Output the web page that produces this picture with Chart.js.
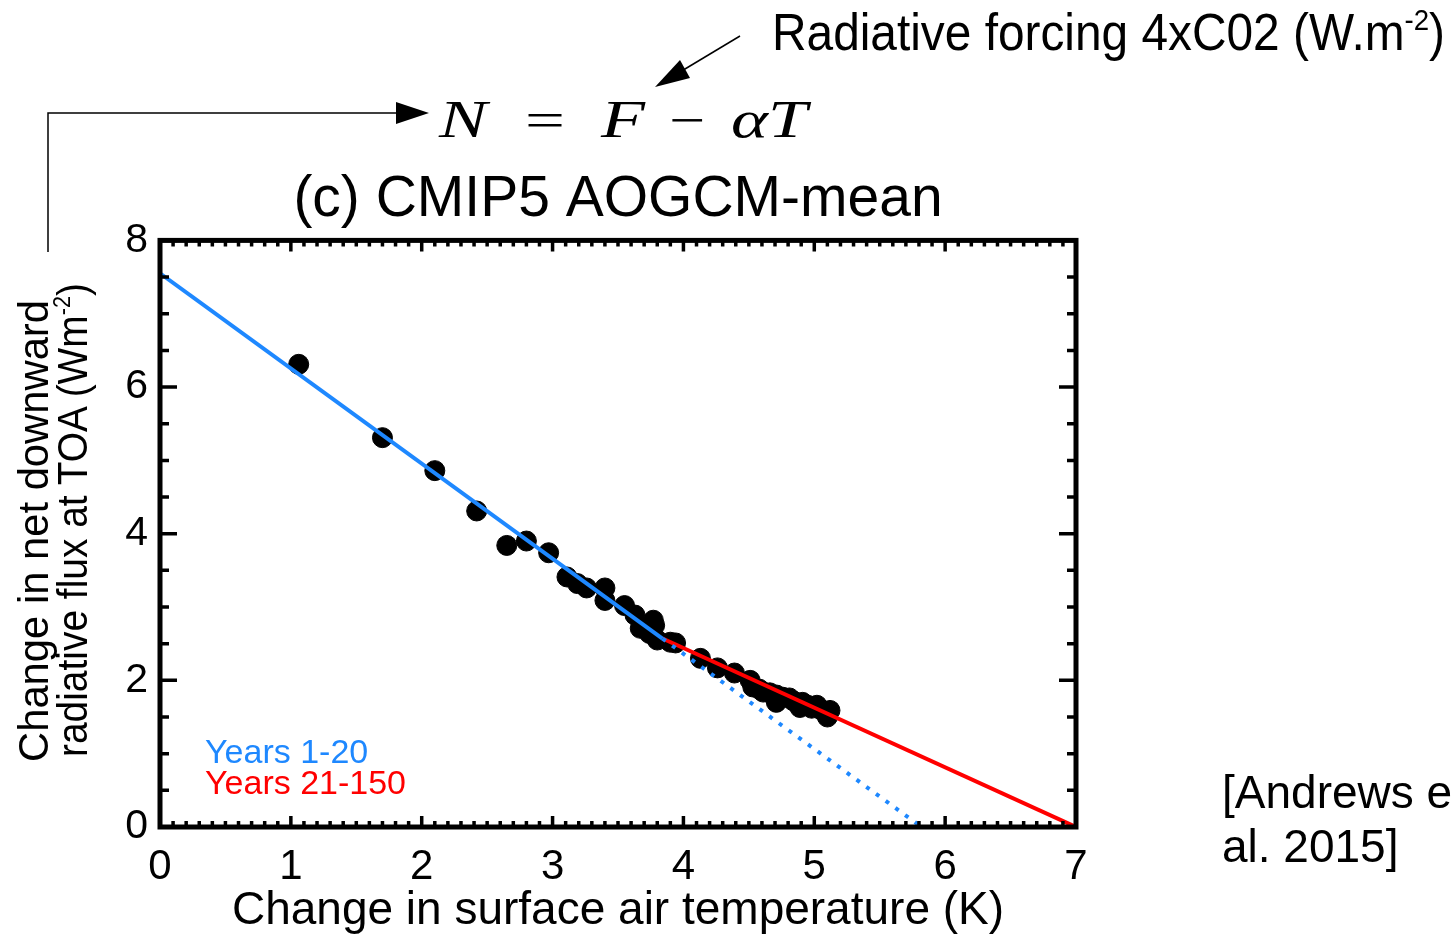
<!DOCTYPE html>
<html lang="en">
<head>
    <meta charset="UTF-8">
    <title>CMIP5 AOGCM-mean</title>
    <script src="https://cdn.jsdelivr.net/npm/chart.js"></script>
    <style>
        body { margin: 0; background: #fff; overflow: hidden; }
        #wrap { position: relative; width: 1452px; height: 934px; }
        #chart { position: absolute; left: 0; top: 0; }
        #notes { position: absolute; left: 0; top: 0; pointer-events: none; }
        #notes text { font-family: 'Liberation Sans', Arial, sans-serif; fill: #000; }
        #notes .eq { font-family: 'Liberation Serif', 'DejaVu Serif', serif; font-style: italic; font-size: 53px; }
        #notes .op { font-family: 'Liberation Serif', 'DejaVu Serif', serif; font-size: 50px; }
    </style>
</head>
<body>
<div id="wrap">
    <canvas id="chart" width="1452" height="934"></canvas>
    <svg id="notes" width="1452" height="934">
        <!-- arrow from the y-axis title to N -->
        <polyline points="48,252 48,113 398,113" fill="none" stroke="#000" stroke-width="1.5"/>
        <polygon points="396,102 429,113 396,124" fill="#000"/>
        <!-- arrow from the forcing label to F -->
        <line x1="740" y1="36" x2="680" y2="72" stroke="#000" stroke-width="1.5"/>
        <polygon points="655,87 690,78 680,60" fill="#000"/>

        <text class="eq" x="439" y="137" textLength="48" lengthAdjust="spacingAndGlyphs">N</text>
        <text class="op" x="525" y="137" textLength="40" lengthAdjust="spacingAndGlyphs">=</text>
        <text class="eq" x="601" y="137" textLength="44" lengthAdjust="spacingAndGlyphs">F</text>
        <text class="op" x="669" y="137" textLength="36" lengthAdjust="spacingAndGlyphs">−</text>
        <text class="eq" x="731" y="137" textLength="76" lengthAdjust="spacingAndGlyphs">αT</text>

        <text x="772" y="50" font-size="52" textLength="673" lengthAdjust="spacingAndGlyphs">Radiative forcing 4xC02 (W.m<tspan font-size="30" dy="-20">-2</tspan><tspan dy="20">)</tspan></text>

        <!-- y-axis title -->
        <text transform="translate(48,531) rotate(-90)" text-anchor="middle" font-size="43" textLength="462" lengthAdjust="spacingAndGlyphs">Change in net downward</text>
        <text transform="translate(87,520) rotate(-90)" text-anchor="middle" font-size="43" textLength="474" lengthAdjust="spacingAndGlyphs">radiative flux at TOA (Wm<tspan font-size="24" dy="-17">-2</tspan><tspan dy="17">)</tspan></text>

        <text x="1222" y="808" font-size="46">[Andrews et</text>
        <text x="1222" y="862" font-size="46">al. 2015]</text>
    </svg>
</div>

<script>
    // annual means, years 1-20 and 21-150
    const earlyX = [1.06, 1.70, 2.10, 2.42, 2.65, 2.80, 2.97, 3.11, 3.19, 3.26, 3.40, 3.40, 3.55, 3.63, 3.67, 3.74, 3.77, 3.78, 3.80, 3.90];
    const earlyY = [6.31, 5.31, 4.86, 4.31, 3.84, 3.90, 3.74, 3.41, 3.32, 3.26, 3.26, 3.09, 3.02, 2.89, 2.71, 2.64, 2.82, 2.75, 2.55, 2.52];
    const lateX = [3.94, 4.13, 4.26, 4.39, 4.51, 4.53, 4.58, 4.61, 4.66, 4.71, 4.71, 4.76, 4.81, 4.84, 4.89, 4.91, 4.95, 4.98, 5.02, 5.05, 5.08, 5.10, 5.12];
    const lateY = [2.51, 2.30, 2.17, 2.10, 2.00, 1.91, 1.88, 1.84, 1.83, 1.80, 1.70, 1.77, 1.76, 1.72, 1.63, 1.70, 1.66, 1.62, 1.66, 1.60, 1.57, 1.50, 1.59];

    // regression lines
    const fitEarlyX = [0, 3.84];
    const fitEarlyY = [7.55, 2.57];
    const extEarlyX = [3.84, 5.82];
    const extEarlyY = [2.57, 0];
    const fitLateX = [3.84, 7];
    const fitLateY = [2.57, 0];

    const xTicks = [0, 1, 2, 3, 4, 5, 6, 7];
    const yTicks = [0, 2, 4, 6, 8];

    const BLUE = '#1e88ff';
    const RED = '#ff0000';
    const FONT = "'Liberation Sans', Arial, sans-serif";

    const pts = (xs, ys) => xs.map((x, i) => ({ x: x, y: ys[i] }));

    // box frame with inward ticks on all four sides
    const framePlugin = {
        id: 'frame',
        afterDatasetsDraw(chart) {
            const { ctx, chartArea: a, scales: { x, y } } = chart;
            ctx.save();
            ctx.strokeStyle = '#000';
            ctx.lineWidth = 3.5;
            for (let i = 0; i <= 70; i++) {
                const v = i / 10;
                const px = x.getPixelForValue(v);
                const len = i % 10 === 0 ? 11 : 6;
                ctx.beginPath();
                ctx.moveTo(px, a.bottom); ctx.lineTo(px, a.bottom - len);
                ctx.moveTo(px, a.top); ctx.lineTo(px, a.top + len);
                ctx.stroke();
            }
            for (let j = 0; j <= 16; j++) {
                const v = j / 2;
                const py = y.getPixelForValue(v);
                const len = v % 2 === 0 ? 17 : 9;
                ctx.beginPath();
                ctx.moveTo(a.left, py); ctx.lineTo(a.left + len, py);
                ctx.moveTo(a.right, py); ctx.lineTo(a.right - len, py);
                ctx.stroke();
            }
            ctx.lineWidth = 5;
            ctx.strokeRect(a.left, a.top, a.right - a.left, a.bottom - a.top);

            // legend text
            ctx.font = '34px ' + FONT;
            ctx.textBaseline = 'middle';
            ctx.fillStyle = BLUE;
            ctx.fillText('Years 1-20', a.left + 45, a.bottom - 73);
            ctx.fillStyle = RED;
            ctx.fillText('Years 21-150', a.left + 45, a.bottom - 42);
            ctx.restore();
        }
    };

    const ctx = document.getElementById('chart').getContext('2d');
    new Chart(ctx, {
        type: 'scatter',
        data: {
            datasets: [
                { type: 'line', data: pts(fitEarlyX, fitEarlyY), borderColor: BLUE, borderWidth: 4, pointRadius: 0, order: 0 },
                { type: 'line', data: pts(extEarlyX, extEarlyY), borderColor: BLUE, borderWidth: 4, borderDash: [4, 8], pointRadius: 0, order: 0 },
                { type: 'line', data: pts(fitLateX, fitLateY), borderColor: RED, borderWidth: 4, pointRadius: 0, order: 0 },
                { data: pts(earlyX, earlyY), backgroundColor: '#000', borderColor: '#000', pointRadius: 10, order: 1 },
                { data: pts(lateX, lateY), backgroundColor: '#000', borderColor: '#000', pointRadius: 10, order: 1 }
            ]
        },
        options: {
            responsive: false,
            animation: false,
            layout: { padding: { left: 0, right: 376, top: 0, bottom: 0 } },
            plugins: {
                legend: { display: false },
                tooltip: { enabled: false },
                title: {
                    display: true,
                    text: '(c) CMIP5 AOGCM-mean',
                    color: '#000',
                    fullSize: false,
                    font: { family: FONT, size: 57, weight: 'normal', lineHeight: 1.2 },
                    padding: { top: 166, bottom: 6 }
                }
            },
            scales: {
                x: {
                    type: 'linear', min: 0, max: 7,
                    grid: { display: false, drawTicks: false },
                    border: { display: false },
                    afterBuildTicks: s => { s.ticks = xTicks.map(v => ({ value: v })); },
                    afterFit: s => { s.height = 107; },
                    ticks: { color: '#000', padding: 15, font: { family: FONT, size: 42 } },
                    title: {
                        display: true, text: 'Change in surface air temperature (K)', color: '#000',
                        font: { family: FONT, size: 46, lineHeight: 1.0 }, padding: { top: 0, bottom: 0 }
                    }
                },
                y: {
                    type: 'linear', min: 0, max: 8,
                    grid: { display: false, drawTicks: false },
                    border: { display: false },
                    afterBuildTicks: s => { s.ticks = yTicks.map(v => ({ value: v })); },
                    afterFit: s => { s.width = 160; },
                    ticks: { color: '#000', padding: 12, font: { family: FONT, size: 41 } }
                }
            }
        },
        plugins: [framePlugin]
    });
</script>
</body>
</html>
